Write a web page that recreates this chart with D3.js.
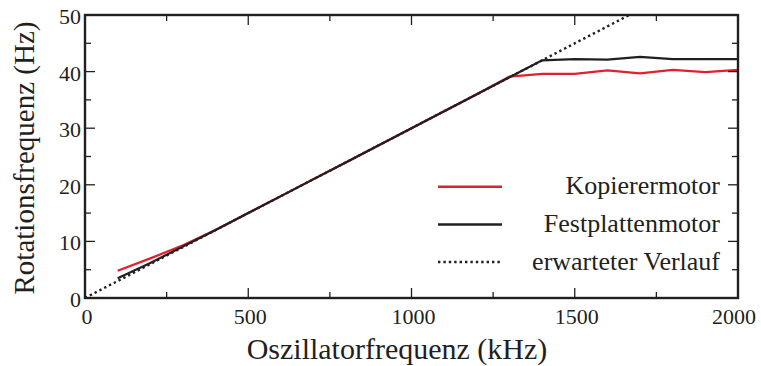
<!DOCTYPE html>
<html><head><meta charset="utf-8">
<script src="https://cdn.jsdelivr.net/npm/d3@7"></script>
</head><body style="margin:0">
<svg id="c" width="761" height="366" style="display:block;background:#fff;font-family:'Liberation Serif'"></svg>
<script>
const kopiererX = [100,200,300,400,500,600,700,800,900,1000,1100,1200,1300,1400,1500,1600,1700,1800,1900,2000];
const kopiererY = [4.8,7.0,9.3,12,15,18,21,24,27,30,33,36,39.1,39.6,39.6,40.2,39.7,40.3,39.9,40.3];
const festX = [100,200,300,400,500,600,700,800,900,1000,1100,1200,1300,1400,1500,1600,1700,1800,1900,2000];
const festY = [3.5,6.2,9.1,12,15,18,21,24,27,30,33,36,39,42.0,42.2,42.1,42.6,42.2,42.2,42.2];
const expectedX = [0,1667];
const expectedY = [0,50];
const xTicks = [0,500,1000,1500,2000];
const yTicks = [0,10,20,30,40,50];
const legendLabels = ["Kopierermotor","Festplattenmotor","erwarteter Verlauf"];

const svg = d3.select("#c");
const L=85,R=738,T=15,B=298;
const xs = d3.scaleLinear().domain([0,2000]).range([L,R]);
const ys = d3.scaleLinear().domain([0,50]).range([B,T]);
const ink="#231f20";
const red="#e41f2d";

svg.append("clipPath").attr("id","cp").append("rect").attr("x",L).attr("y",T).attr("width",R-L).attr("height",B-T);
const g = svg.append("g").attr("clip-path","url(#cp)");
const lineGen = d3.line().x(d=>xs(d[0])).y(d=>ys(d[1]));
g.append("path").datum(d3.zip(expectedX,expectedY)).attr("d",lineGen).attr("fill","none").attr("stroke",ink).attr("stroke-width",2.4).attr("stroke-dasharray","2.4,3");
g.append("path").datum(d3.zip(kopiererX,kopiererY)).attr("d",lineGen).attr("fill","none").attr("stroke",red).attr("stroke-width",2.2);
g.append("path").datum(d3.zip(festX,festY)).attr("d",lineGen).attr("fill","none").attr("stroke",ink).attr("stroke-width",2.2);

const xMinor = d3.range(250,2000,500);
const yMinor = d3.range(5,50,10);
const ax = svg.append("g").attr("stroke",ink).attr("stroke-width",1.3);
xTicks.concat(xMinor).forEach(v=>{
  const len = xTicks.includes(v)?10:6;
  ax.append("line").attr("x1",xs(v)).attr("x2",xs(v)).attr("y1",B).attr("y2",B-len);
  ax.append("line").attr("x1",xs(v)).attr("x2",xs(v)).attr("y1",T).attr("y2",T+len);
});
yTicks.concat(yMinor).forEach(v=>{
  const len = yTicks.includes(v)?10:6;
  ax.append("line").attr("y1",ys(v)).attr("y2",ys(v)).attr("x1",L).attr("x2",L+len);
  ax.append("line").attr("y1",ys(v)).attr("y2",ys(v)).attr("x1",R).attr("x2",R-len);
});
svg.append("rect").attr("x",L).attr("y",T).attr("width",R-L).attr("height",B-T).attr("fill","none").attr("stroke",ink).attr("stroke-width",2.4);

function txt(sel){ return sel.style("font-family",'"Liberation Serif"').attr("fill",ink); }
txt(svg.selectAll(".xl").data(xTicks).join("text")).attr("x",d=>xs(d)+(d===2000?-4:2)).attr("y",B+26).attr("text-anchor","middle").attr("font-size",22).text(d=>d);
txt(svg.selectAll(".yl").data(yTicks).join("text")).attr("x",L-4).attr("y",d=>ys(d)+9).attr("text-anchor","end").attr("font-size",22).text(d=>d);

txt(svg.append("text")).attr("x",397).attr("y",359).attr("text-anchor","middle").attr("font-size",30).text("Oszillatorfrequenz (kHz)");
txt(svg.append("text")).attr("transform",`translate(34,158) rotate(-90)`).attr("text-anchor","middle").attr("font-size",29).text("Rotationsfrequenz (Hz)");

const legY=[186.7,224.5,262];
const dashes=[null,null,"2.4,3"];
const cols=[red,ink,ink];
legendLabels.forEach((t,i)=>{
  svg.append("line").attr("x1",438).attr("x2",502).attr("y1",legY[i]).attr("y2",legY[i]).attr("stroke",cols[i]).attr("stroke-width",2.4).attr("stroke-dasharray",dashes[i]);
  txt(svg.append("text")).attr("x",720).attr("y",legY[i]+7.5).attr("text-anchor","end").attr("font-size",26).text(t);
});
</script></body></html>
